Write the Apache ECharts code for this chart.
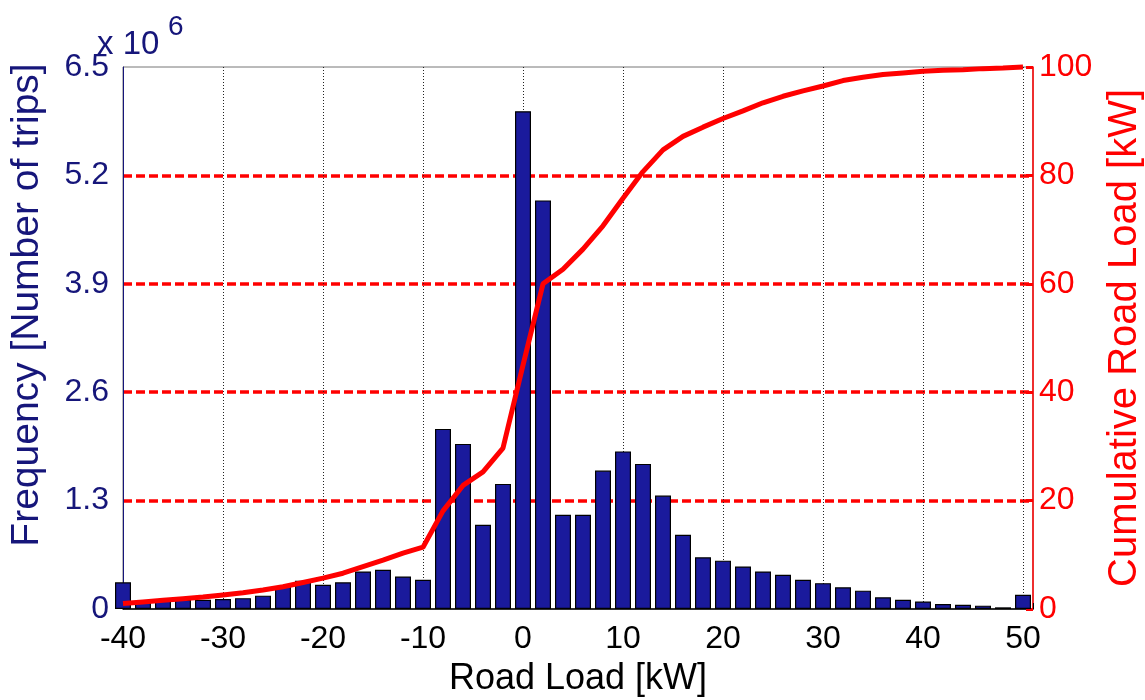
<!DOCTYPE html>
<html>
<head>
<meta charset="utf-8">
<title>Road load histogram</title>
<script src="https://cdn.jsdelivr.net/npm/echarts@6/dist/echarts.min.js"></script>
<style>
  html, body { margin: 0; padding: 0; background: #fff; }
  #chart { width: 1145px; height: 700px; }
</style>
</head>
<body>
<div id="chart"></div>
<script>
// bin centres [kW]
const loadBins = [
  -40, -38, -36, -34, -32, -30, -28, -26, -24, -22,
  -20, -18, -16, -14, -12, -10, -8, -6, -4, -2,
  0, 2, 4, 6, 8, 10, 12, 14, 16, 18,
  20, 22, 24, 26, 28, 30, 32, 34, 36, 38,
  40, 42, 44, 46, 48, 50
];
// number of trips per bin, in millions (x 10^6)
const tripCounts = [
  0.32, 0.08, 0.10, 0.11, 0.11, 0.12, 0.13, 0.16, 0.27, 0.34,
  0.29, 0.32, 0.45, 0.47, 0.39, 0.35, 2.16, 1.98, 1.01, 1.50,
  5.97, 4.90, 1.13, 1.13, 1.66, 1.89, 1.74, 1.36, 0.89, 0.62,
  0.58, 0.51, 0.45, 0.41, 0.35, 0.31, 0.26, 0.22, 0.14, 0.11,
  0.09, 0.06, 0.05, 0.04, 0.02, 0.17
];
// cumulative road load [kW]
const cumulative = [
  1.0, 1.3, 1.6, 1.9, 2.2, 2.6, 3.0, 3.5, 4.1, 4.9,
  5.7, 6.6, 7.8, 9.0, 10.3, 11.4, 18.1, 22.8, 25.3, 29.7,
  45.0, 60.0, 62.7, 66.4, 70.7, 75.8, 80.7, 84.7, 87.2, 88.9,
  90.5, 91.9, 93.4, 94.6, 95.6, 96.5, 97.5, 98.1, 98.6, 98.9,
  99.2, 99.4, 99.5, 99.7, 99.8, 100
];
const freqTicks = [0, 1.3, 2.6, 3.9, 5.2, 6.5];

const navy = '#16167a';
const red = '#ff0000';
const fontFamily = '"Liberation Sans", Arial, sans-serif';

const chart = echarts.init(document.getElementById('chart'));

const option = {
  animation: false,
  backgroundColor: '#fff',
  textStyle: { fontFamily: fontFamily },
  grid: {
    left: 123, right: 112, top: 67, bottom: 91,
    outerBoundsMode: 'none',
    containLabel: false,
    show: true, borderColor: '#777', borderWidth: 1
  },
  graphic: [
    { type: 'text', left: 97, top: 28, style: { text: 'x 10', fontSize: 33, fill: navy, fontFamily: fontFamily } },
    { type: 'text', left: 168, top: 13, style: { text: '6', fontSize: 28, fill: navy, fontFamily: fontFamily } }
  ],
  xAxis: {
    type: 'value',
    min: -40,
    max: 51,
    interval: 10,
    name: 'Road Load [kW]',
    nameLocation: 'middle',
    nameGap: 52,
    nameTextStyle: { fontSize: 36, color: '#000' },
    axisLine: { onZero: false, lineStyle: { color: '#000', width: 1.5 } },
    axisTick: { inside: true, length: 6, lineStyle: { color: '#000' } },
    axisLabel: {
      fontSize: 32, color: '#000', margin: 14,
      formatter: function (v) { return v % 10 === 0 ? String(v) : ''; }
    },
    splitLine: {
      show: true, showMinLine: false, showMaxLine: false,
      lineStyle: { color: '#222', type: [1, 2], width: 1 }
    }
  },
  yAxis: [
    {
      type: 'value',
      min: 0,
      max: 6.5,
      interval: 1.3,
      name: 'Frequency [Number of trips]',
      nameLocation: 'middle',
      nameGap: 76,
      nameTextStyle: { fontSize: 39, color: navy, padding: [0, 0, 0, 66] },
      axisLine: { show: true, onZero: false, lineStyle: { color: navy, width: 1 } },
      axisTick: { show: false },
      axisLabel: {
        fontSize: 32, color: navy, margin: 14,
        formatter: function (v) {
          const t = freqTicks.find(function (f) { return Math.abs(f - v) < 1e-6; });
          return t === undefined ? '' : String(t);
        }
      },
      splitLine: { show: false }
    },
    {
      type: 'value',
      min: 0,
      max: 100,
      interval: 20,
      position: 'right',
      name: 'Cumulative Road Load [kW]',
      nameLocation: 'middle',
      nameGap: 72,
      nameRotate: 90,
      nameTextStyle: { fontSize: 40, color: red },
      axisLine: { show: true, onZero: false, lineStyle: { color: red, width: 1.5 } },
      axisTick: { show: true, inside: true, length: 7, lineStyle: { color: red, width: 3 } },
      axisLabel: { fontSize: 32, color: red, margin: 6 },
      splitLine: {
        show: true, showMinLine: false, showMaxLine: false,
        lineStyle: { color: red, type: [9, 4], width: 3.5 }
      }
    }
  ],
  series: [
    {
      name: 'Frequency',
      type: 'bar',
      yAxisIndex: 0,
      barWidth: 16,
      clip: true,
      data: loadBins.map(function (x, i) { return [x, tripCounts[i]]; }),
      itemStyle: { color: '#1a1a9c', borderColor: '#000', borderWidth: 1.2 }
    },
    {
      name: 'Cumulative',
      type: 'line',
      yAxisIndex: 1,
      showSymbol: false,
      clip: false,
      data: loadBins.map(function (x, i) { return [x, cumulative[i]]; }),
      lineStyle: { color: red, width: 5 },
      z: 5
    }
  ]
};

chart.setOption(option);
window.addEventListener('resize', function () { chart.resize(); });
</script>
</body>
</html>
